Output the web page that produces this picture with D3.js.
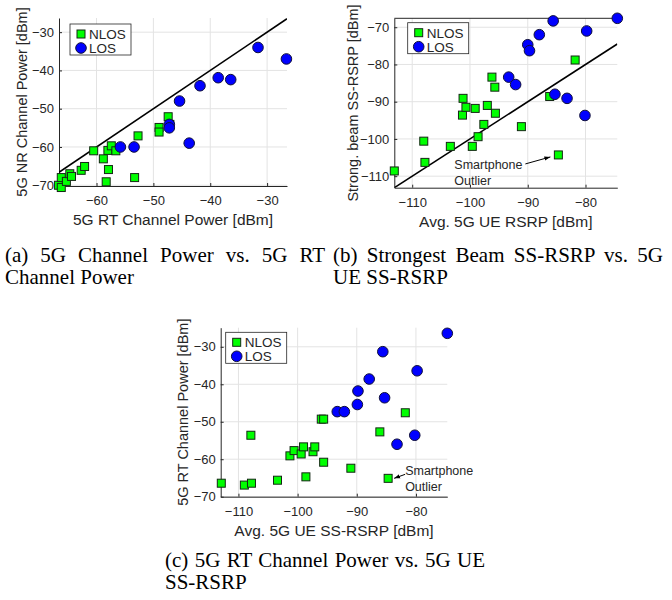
<!DOCTYPE html>
<html>
<head>
<meta charset="utf-8">
<script src="https://cdn.jsdelivr.net/npm/d3@7"></script>
<style>
  body { margin: 0; background: #fff; }
  svg text { font-family: "Liberation Sans", Arial, Helvetica, sans-serif; }
  .caption { font-family: "Liberation Serif", "Times New Roman", serif; font-size: 21px; fill: #000; }
</style>
</head>
<body>
<svg id="fig" width="672" height="600"></svg>
<script>
// ---- data ----
// (a) 5G NR channel power vs 5G RT channel power
const aNlos = [[-66.7,-70.0],[-66.2,-70.6],[-66.2,-68.0],[-65.3,-69.0],[-64.7,-67.0],[-64.4,-67.7],
  [-62.7,-66.1],[-62.1,-65.1],[-60.5,-61.0],[-58.8,-63.1],[-58.3,-69.1],[-57.9,-65.9],[-58.0,-60.9],
  [-57.4,-59.7],[-56.6,-61.0],[-53.3,-68.0],[-52.7,-57.1],[-49.0,-54.9],[-49.0,-56.1],[-47.4,-52.1],[-47.1,-54.1]];
const aLos = [[-55.8,-60.0],[-53.4,-60.0],[-47.2,-54.1],[-47.2,-55.0],[-45.4,-48.0],[-43.7,-59.0],
  [-41.8,-44.0],[-38.6,-41.9],[-36.4,-42.4],[-31.6,-34.0],[-26.6,-37.0]];

// (b) strongest beam SS-RSRP vs avg 5G UE RSRP
const bNlos = [[-113.1,-108.6],[-108.0,-100.6],[-107.8,-106.3],[-103.4,-102.0],[-101.3,-93.6],[-101.2,-89.1],
  [-100.7,-91.5],[-99.1,-91.8],[-99.6,-102.0],[-98.6,-99.4],[-97.6,-96.1],[-97.0,-91.0],[-96.2,-83.4],
  [-95.7,-86.1],[-95.6,-93.1],[-91.1,-96.7],[-86.2,-88.6],[-84.7,-104.3],[-81.8,-78.8]];
const bLos = [[-93.3,-83.4],[-92.1,-85.4],[-90.0,-74.7],[-89.7,-76.3],[-88.0,-72.0],[-85.6,-68.3],
  [-85.3,-88.0],[-83.2,-89.1],[-79.8,-71.0],[-80.1,-93.7],[-74.5,-67.6]];

// (c) 5G RT channel power vs avg 5G UE SS-RSRP
const cNlos = [[-112.9,-66.4],[-109.0,-66.9],[-107.8,-66.4],[-107.9,-53.6],[-103.4,-65.6],[-101.3,-59.1],
  [-100.6,-57.7],[-99.4,-58.6],[-99.0,-56.7],[-98.6,-64.7],[-97.4,-58.0],[-97.1,-56.7],[-96.0,-49.3],
  [-95.6,-49.3],[-95.6,-60.8],[-91.0,-62.4],[-86.1,-52.7],[-84.7,-65.1],[-81.8,-47.6]];
const cLos = [[-93.3,-47.3],[-92.1,-47.3],[-89.9,-45.4],[-89.8,-41.8],[-87.9,-38.6],[-85.6,-31.3],
  [-85.3,-43.6],[-83.2,-56.0],[-80.2,-53.6],[-79.8,-36.4],[-74.7,-26.4]];

// outlier point that gets the annotation in (b) and (c)
const bOutlier = [-84.7, -104.3];
const cOutlier = [-84.7, -65.1];

// ticks
const powerTicks = [-70, -60, -50, -40, -30];
const aXTicks = [-60, -50, -40, -30];
const rsrpXTicks = [-110, -100, -90, -80];
const bYTicks = [-110, -100, -90, -80, -70];

const legendLabels = ["NLOS", "LOS"];
const annotationLines = ["Smartphone", "Outlier"];

const captionA = ["(a) 5G Channel Power vs. 5G RT", "Channel Power"];
const captionB = ["(b) Strongest Beam SS-RSRP vs. 5G", "UE SS-RSRP"];
const captionC = ["(c) 5G RT Channel Power vs. 5G UE", "SS-RSRP"];

// ---- drawing ----
const svg = d3.select('#fig');
const axisColor = '#262626';
const gridColor = '#e3e3e3';
const green = '#00ff00', blue = '#0000ff';
const sq = 8, rad = 5.3;

function drawPanel(p) {
  const g = svg.append('g');
  const x = d3.scaleLinear().domain(p.xDomain).range([p.left, p.right]);
  const y = d3.scaleLinear().domain(p.yDomain).range([p.bottom, p.top]);

  // grid
  g.selectAll('.gx').data(p.xTicks).join('line')
    .attr('x1', d => x(d)).attr('x2', d => x(d))
    .attr('y1', p.top).attr('y2', p.bottom)
    .attr('stroke', gridColor).attr('stroke-width', 1);
  g.selectAll('.gy').data(p.yTicks).join('line')
    .attr('x1', p.left).attr('x2', p.right)
    .attr('y1', d => y(d)).attr('y2', d => y(d))
    .attr('stroke', gridColor).attr('stroke-width', 1);

  // axes (ticks point inward like matlab)
  const xAxis = d3.axisBottom(x).tickValues(p.xTicks).tickSizeInner(-3).tickSizeOuter(0).tickPadding(10);
  const yAxis = d3.axisLeft(y).tickValues(p.yTicks).tickSizeInner(-3).tickSizeOuter(0).tickPadding(5);

  g.append('g')
    .attr('transform', `translate(0,${p.bottom})`)
    .attr('color', axisColor)
    .call(xAxis)
    .call(a => a.selectAll('text').attr('font-size', 13).attr('font-family', null));
  g.append('g')
    .attr('transform', `translate(${p.left},0)`)
    .attr('color', axisColor)
    .call(yAxis)
    .call(a => a.selectAll('text').attr('font-size', 13).attr('font-family', null));

  if (p.topLine) {
    g.append('line')
      .attr('x1', p.left).attr('x2', p.right)
      .attr('y1', p.top).attr('y2', p.top)
      .attr('stroke', axisColor).attr('stroke-width', 1);
  }

  // axis labels
  g.append('text')
    .attr('x', (p.left + p.right) / 2).attr('y', p.bottom + 39)
    .attr('text-anchor', 'middle').attr('font-size', 15.5).attr('fill', axisColor)
    .text(p.xLabel);
  g.append('text')
    .attr('transform', `translate(${p.left - p.yLabelOff},${(p.top + p.bottom) / 2}) rotate(-90)`)
    .attr('text-anchor', 'middle').attr('font-size', 14.5).attr('fill', axisColor)
    .text(p.yLabel);

  // clip for the reference line
  const clipId = 'clip' + p.id;
  svg.append('clipPath').attr('id', clipId).append('rect')
    .attr('x', p.left).attr('y', p.top)
    .attr('width', p.right - p.left).attr('height', p.bottom - p.top);

  if (p.diag) {
    const d0 = p.xDomain[0], d1 = p.xDomain[1];
    g.append('line')
      .attr('clip-path', `url(#${clipId})`)
      .attr('x1', x(d0)).attr('y1', y(d0))
      .attr('x2', x(d1)).attr('y2', y(d1))
      .attr('stroke', '#000').attr('stroke-width', 1.6);
  }

  // markers
  g.selectAll('.nlos').data(p.nlos).join('rect')
    .attr('x', d => x(d[0]) - sq / 2).attr('y', d => y(d[1]) - sq / 2)
    .attr('width', sq).attr('height', sq)
    .attr('fill', green).attr('stroke', '#142814').attr('stroke-width', 1);
  g.selectAll('.los').data(p.los).join('circle')
    .attr('cx', d => x(d[0])).attr('cy', d => y(d[1])).attr('r', rad)
    .attr('fill', blue).attr('stroke', '#10103a').attr('stroke-width', 1);

  // annotation
  if (p.outlier) {
    const ox = x(p.outlier[0]), oy = y(p.outlier[1]);
    const a = p.annot;
    g.append('defs').append('marker')
      .attr('id', 'arr' + p.id).attr('viewBox', '0 0 10 10')
      .attr('refX', 10).attr('refY', 5)
      .attr('markerWidth', 6).attr('markerHeight', 6)
      .attr('orient', 'auto-start-reverse')
      .append('path').attr('d', 'M0,1.5 L10,5 L0,8.5 Z').attr('fill', '#000');
    g.append('line')
      .attr('x1', ox + a.ax1).attr('y1', oy + a.ay1)
      .attr('x2', ox + a.ax2).attr('y2', oy + a.ay2)
      .attr('stroke', '#000').attr('stroke-width', 1)
      .attr('marker-end', `url(#arr${p.id})`);
    g.selectAll('.ann').data(annotationLines).join('text')
      .attr('x', ox + a.tx).attr('y', (d, i) => oy + a.ty + i * 16)
      .attr('font-size', 12.5).attr('fill', axisColor)
      .text(d => d);
  }

  // legend
  const L = p.legend;
  const lg = g.append('g').attr('transform', `translate(${L.x},${L.y})`);
  lg.append('rect').attr('width', 61).attr('height', 31)
    .attr('fill', '#fff').attr('stroke', axisColor).attr('stroke-width', 0.8);
  lg.append('rect').attr('x', 11 - sq / 2).attr('y', 10 - sq / 2)
    .attr('width', sq).attr('height', sq)
    .attr('fill', green).attr('stroke', '#142814').attr('stroke-width', 1);
  lg.append('circle').attr('cx', 11).attr('cy', 24).attr('r', rad)
    .attr('fill', blue).attr('stroke', '#10103a').attr('stroke-width', 1);
  lg.selectAll('.lt').data(legendLabels).join('text')
    .attr('x', 19).attr('y', (d, i) => 10 + i * 14)
    .attr('dy', '0.36em').attr('font-size', 13.5).attr('fill', axisColor)
    .text(d => d);
}

drawPanel({
  id: 'a', left: 59, right: 287, top: 18, bottom: 186,
  xDomain: [-66.6, -26.5], yDomain: [-70.2, -26.3],
  xTicks: aXTicks, yTicks: powerTicks,
  xLabel: '5G RT Channel Power [dBm]', yLabel: '5G NR Channel Power [dBm]', yLabelOff: 32.5,
  nlos: aNlos, los: aLos, diag: true,
  legend: {x: 70, y: 24}
});

drawPanel({
  id: 'b', left: 394.3, right: 617.3, top: 18.3, bottom: 187.7,
  xDomain: [-113.1, -74.5], yDomain: [-113.1, -67.6],
  xTicks: rsrpXTicks, yTicks: bYTicks,
  xLabel: 'Avg. 5G UE RSRP [dBm]', yLabel: 'Strong. beam SS-RSRP [dBm]', yLabelOff: 36.5,
  nlos: bNlos, los: bLos, diag: true, topLine: true,
  outlier: bOutlier, annot: {tx: -104, ty: 14, ax1: -33, ay1: 9, ax2: -8, ay2: 2},
  legend: {x: 407.7, y: 22.7}
});

drawPanel({
  id: 'c', left: 220.7, right: 447.3, top: 327.7, bottom: 496.7,
  xDomain: [-113, -74.7], yDomain: [-70, -24.9],
  xTicks: rsrpXTicks, yTicks: powerTicks,
  xLabel: 'Avg. 5G UE SS-RSRP [dBm]', yLabel: '5G RT Channel Power [dBm]', yLabelOff: 32.7,
  nlos: cNlos, los: cLos, diag: false,
  outlier: cOutlier, annot: {tx: 17, ty: -3, ax1: 17, ay1: -4, ax2: 6, ay2: 0},
  legend: {x: 225.7, y: 332.3}
});

// captions, first line justified like the paper
function caption(lines, x0, x1, y0) {
  lines.forEach((t, i) => {
    const txt = svg.append('text').attr('class', 'caption')
      .attr('x', x0).attr('y', y0 + i * 22).text(t);
    if (i === 0) {
      const w = txt.node().getComputedTextLength();
      const gaps = t.split(' ').length - 1;
      txt.attr('word-spacing', (x1 - x0 - w) / gaps);
    }
  });
}
caption(captionA, 5, 325, 261.5);
caption(captionB, 333, 663, 261.5);
caption(captionC, 165, 485, 566.5);
</script>
</body>
</html>
